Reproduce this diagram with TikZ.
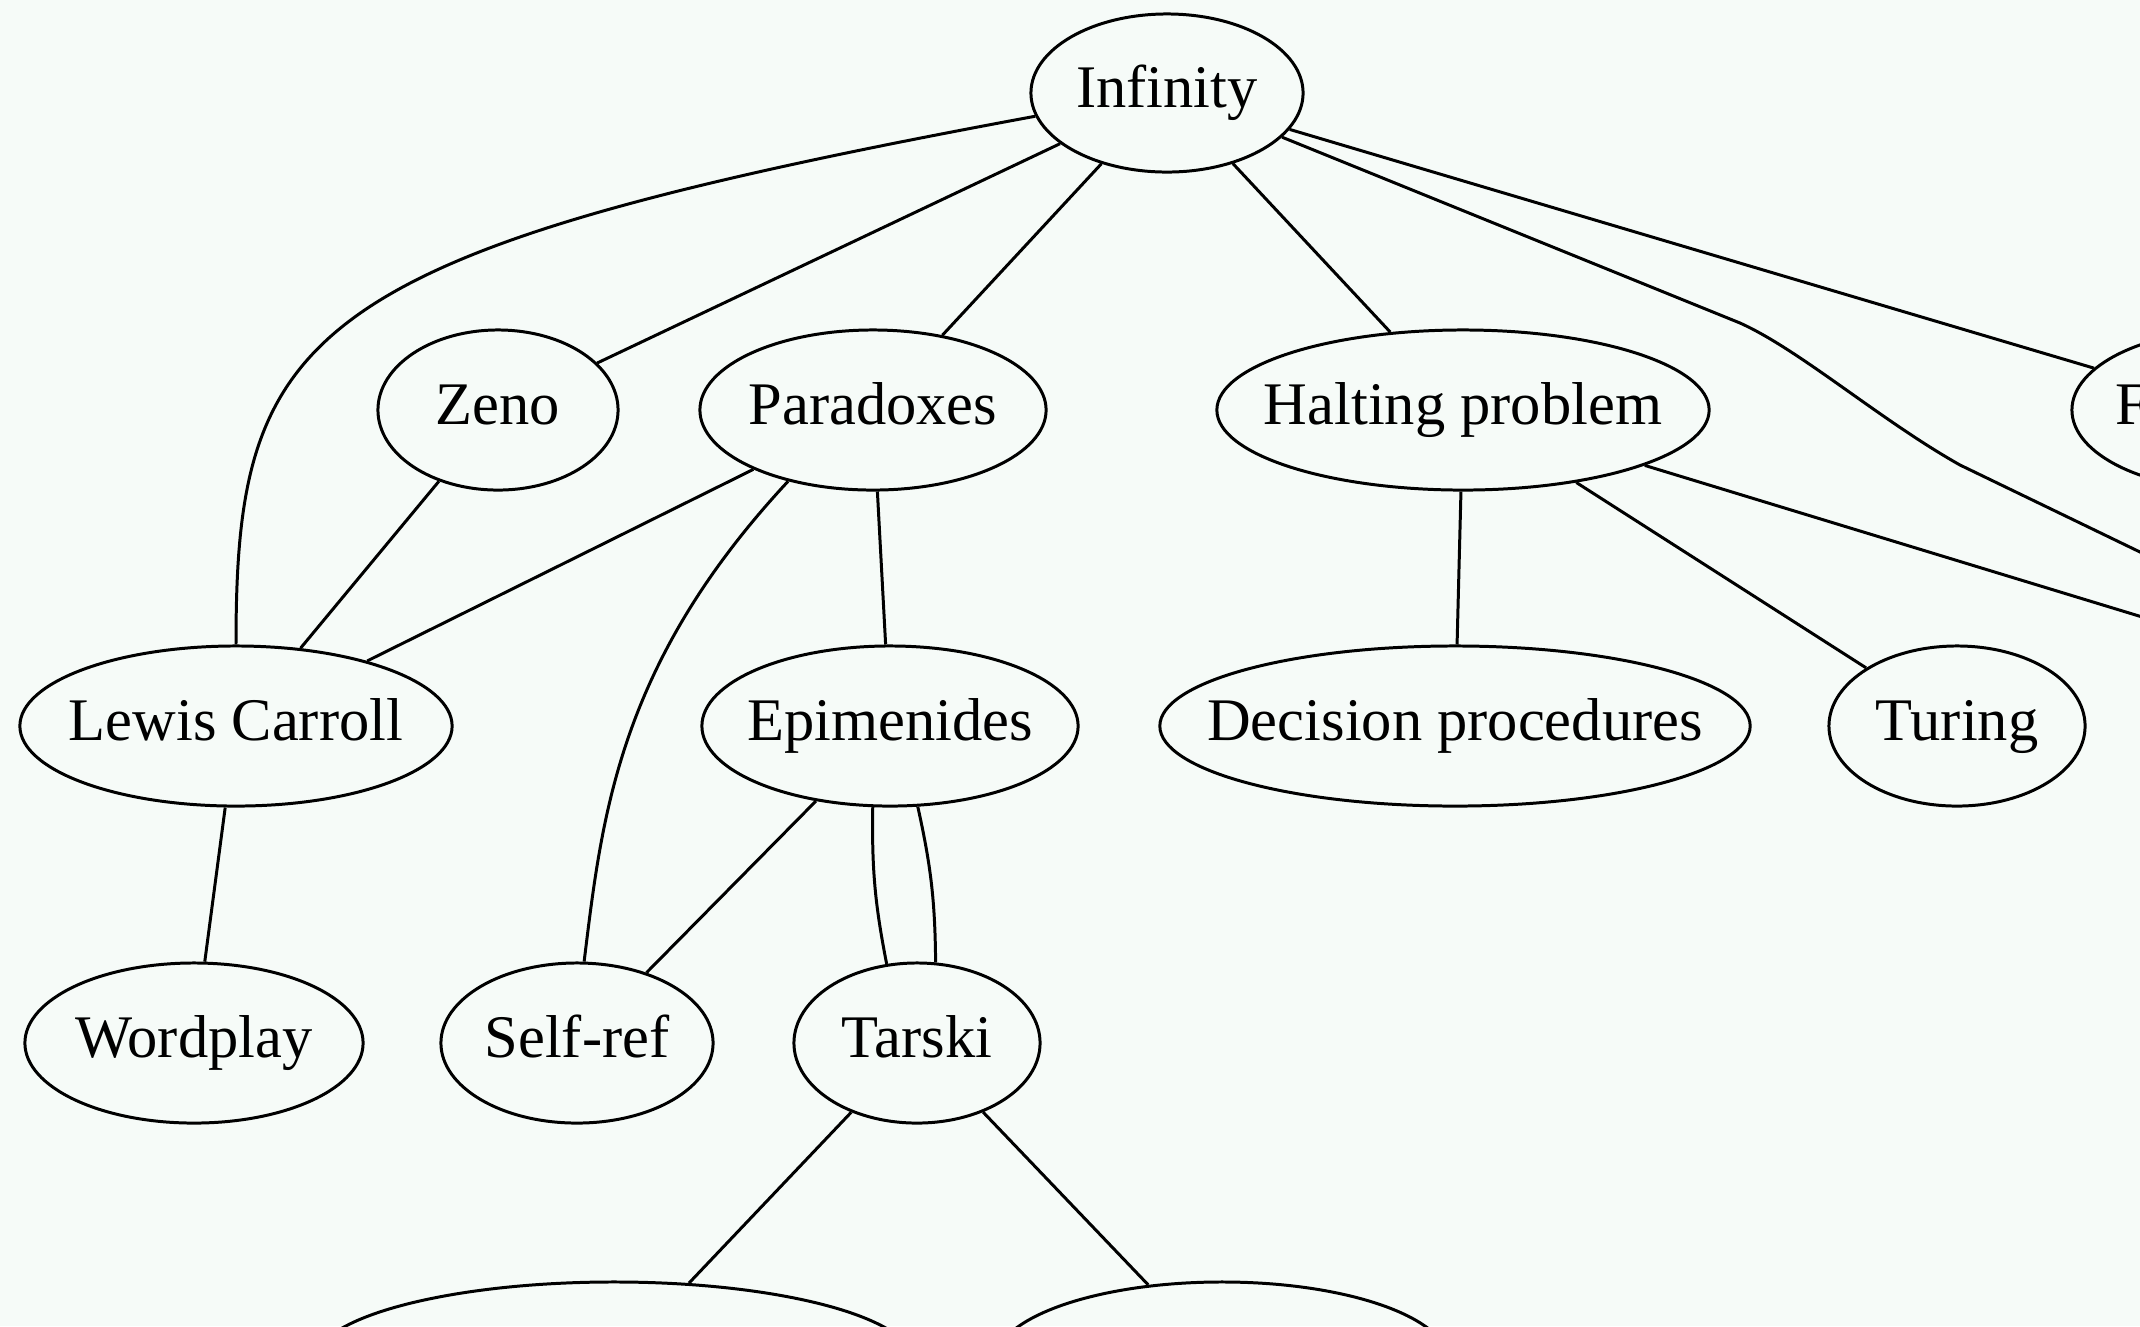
\documentclass[tikz,border=0pt]{standalone}
\usepackage{fontspec}
\setmainfont{Liberation Serif}
\usepackage{tikz}
\usetikzlibrary{shapes.geometric}
\definecolor{paperMint}{RGB}{246,251,248}
\newcommand{\tlabel}[1]{\makebox[0pt]{#1}}

\begin{document}
\begin{tikzpicture}[x=0.01cm, y=-0.01cm, line width=0.85pt,
  topic/.style={draw, ellipse, inner sep=0pt, minimum height=1.6cm,
    text height=0.9em, text depth=0.1em, font=\fontsize{17.2pt}{20pt}\selectfont}]
\useasboundingbox (0,0) rectangle (2140,1326);
\fill[paperMint] (0,0) rectangle (2140,1326);
\clip (0,0) rectangle (2140,1326);

%
\node[topic, minimum width=2.72cm, minimum height=1.58cm] (inf) at (1167,93) {\tlabel{Infinity}};
\node[topic, minimum width=2.40cm] (zeno) at (498,410) {\tlabel{Zeno}};
\node[topic, minimum width=3.46cm] (para) at (873,410) {\tlabel{Paradoxes}};
\node[topic, minimum width=4.92cm] (halt) at (1463,410) {\tlabel{Halting problem}};
\node[topic, minimum width=3.26cm] (fib) at (2235,410) {\tlabel{Fibonacci}};
\node[topic, minimum width=4.32cm] (lewis) at (236,726) {\tlabel{Lewis Carroll}};
\node[topic, minimum width=3.76cm] (epi) at (890,726) {\tlabel{Epimenides}};
\node[topic, minimum width=5.90cm] (dec) at (1455,726) {\tlabel{Decision procedures}};
\node[topic, minimum width=2.56cm] (turing) at (1957,726) {\tlabel{Turing}};
\node[topic, minimum width=3.40cm] (offr) at (2500,726) {};
\node[topic, minimum width=3.38cm] (word) at (194,1043) {\tlabel{Wordplay}};
\node[topic, minimum width=2.72cm] (self) at (577,1043) {\tlabel{Self-ref}};
\node[topic, minimum width=2.46cm] (tarski) at (917,1043) {\tlabel{Tarski}};
\node[topic, minimum width=6.00cm] (botl) at (614,1362) {};
\node[topic, minimum width=4.54cm] (botr) at (1222,1362) {};

%
\draw (inf.190) .. controls (300,252) and (236,330) .. (lewis.north);
\draw (inf) -- (zeno);
\draw (inf) -- (para);
\draw (inf) -- (halt);
\draw (inf) -- (fib);
\draw (inf.-21) -- (1740,323) .. controls (1800,350) and (1880,420) .. (1960,465) -- (offr);

%
\draw (zeno) -- (lewis);
\draw (para) -- (lewis);
\draw (para.-140) .. controls (618,664) and (602,816) .. (self.85);
\draw (para) -- (epi);
\draw (halt) -- (dec);
\draw (halt) -- (turing);
\draw (halt) -- (offr);

%
\draw (lewis) -- (word);
\draw (epi) -- (self);
\draw (epi.-102) to[bend right=6] (tarski.111);
\draw (epi.-71) to[bend left=6] (tarski.77);
\draw (tarski) -- (botl);
\draw (tarski) -- (botr);
\end{tikzpicture}
\end{document}
